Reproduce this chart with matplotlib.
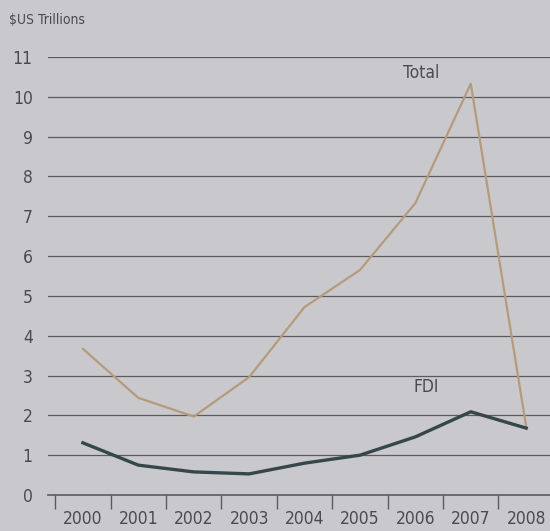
import matplotlib.pyplot as plt
from matplotlib import font_manager

years = ['2000', '2001', '2002', '2003', '2004', '2005', '2006', '2007', '2008']
total = [3.67, 2.44, 1.97, 2.96, 4.72, 5.65, 7.33, 10.33, 1.72]
fdi = [1.31, 0.75, 0.58, 0.53, 0.80, 1.00, 1.46, 2.09, 1.68]
yticks = list(range(0, 12))

bg = '#c9c9cd'
txt = '#4a4a50'

# look for a narrow sans face, the print uses a condensed type
narrow = None
for f in font_manager.fontManager.ttflist:
    low = (f.fname + f.name).lower()
    if ('narrow' in low or 'condensed' in low) and 'serif' not in low and 'mono' not in low \
            and 'bold' not in low and 'oblique' not in low and 'italic' not in low:
        narrow = f.fname
        break
if narrow:
    fp = font_manager.FontProperties(fname=narrow)
    size = 12.5
else:
    fp = font_manager.FontProperties(family='DejaVu Sans')
    size = 10.5

fig = plt.figure(figsize=(5.5, 5.31), dpi=100, facecolor=bg)
ax = fig.add_axes([48 / 550, 36 / 531, 1 - 48 / 550, (495 - 57) / 531])
ax.set_facecolor(bg)

x = list(range(len(years)))
ax.plot(x, total, color='#b59b7c', lw=1.6)
ax.plot(x, fdi, color='#35474a', lw=2.4)

ax.set_xlim(-0.63, 8.43)
ax.set_ylim(0, 11)

for v in yticks[1:]:
    ax.axhline(v, color='#5a5a60', lw=0.9, zorder=0)
ax.axhline(0, color='#5a5a60', lw=1.2, zorder=0, clip_on=False)

for s in ax.spines.values():
    s.set_visible(False)

ax.set_yticks(yticks)
ax.set_yticklabels([str(v) for v in yticks], fontproperties=fp, fontsize=size, color=txt)
ax.tick_params(axis='y', length=0, pad=11)

ax.set_xticks([i - 0.5 for i in x])
ax.set_xticklabels([])
ax.set_xticks(x, minor=True)
ax.set_xticklabels(years, minor=True, fontproperties=fp, fontsize=size, color=txt)
ax.tick_params(axis='x', which='major', direction='out', length=10, width=1, color='#5a5a60')
ax.tick_params(axis='x', which='minor', length=0, pad=11)

ax.text(6.1, 10.6, 'Total', fontproperties=fp, fontsize=size, color=txt, ha='center', va='center')
ax.text(6.2, 2.7, 'FDI', fontproperties=fp, fontsize=size, color=txt, ha='center', va='center')
fig.text(9 / 550, 1 - 20 / 531, '$US Trillions', fontproperties=fp, fontsize=10,
         color=txt, ha='left', va='center')

fig.savefig('out.png', dpi=100, facecolor=bg)
